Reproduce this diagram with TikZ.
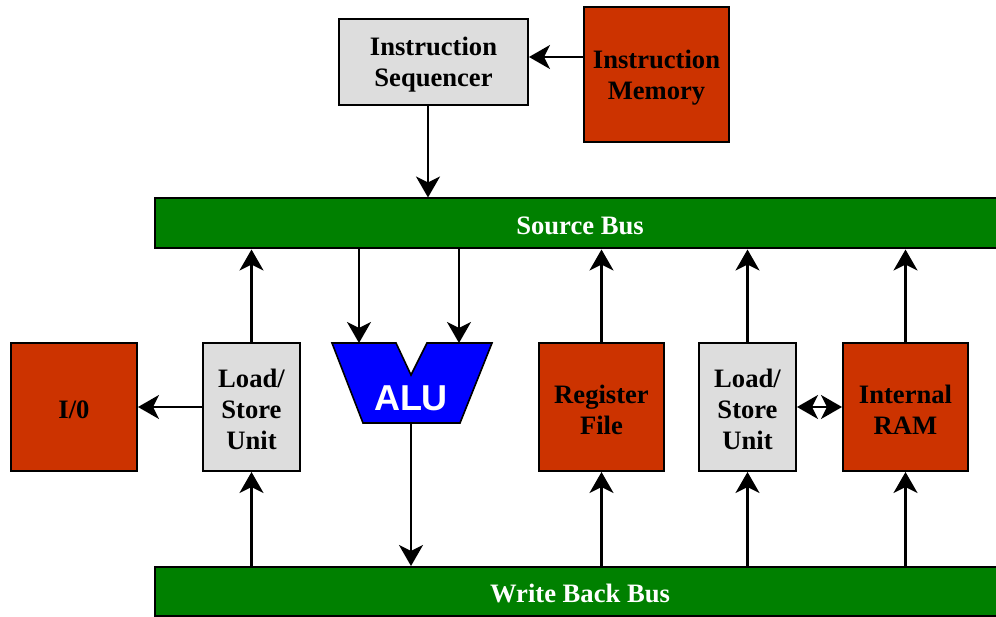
\documentclass[tikz,border=0pt]{standalone}
\usepackage{fontspec}
\setmainfont{Liberation Serif}
\newfontfamily\alufont{Liberation Sans}
\usetikzlibrary{arrows.meta}
\definecolor{unitred}{RGB}{204,51,0}
\definecolor{unitgray}{RGB}{221,221,221}
\definecolor{busgreen}{RGB}{0,128,0}
\definecolor{alublue}{RGB}{0,0,255}
\begin{document}
\begin{tikzpicture}[x=1pt,y=-1pt,
  box/.style={draw=black, line width=2pt, inner sep=0pt},
  graybox/.style={box, fill=unitgray},
  redbox/.style={box, fill=unitred},
  bus/.style={box, fill=busgreen, minimum width=850pt, minimum height=50pt},
  boxtext/.style={inner sep=0pt, align=center, font=\fontsize{26.6}{31}\selectfont\bfseries},
  bustext/.style={boxtext, text=white},
  tip/.tip={Stealth[length=21pt,width=24pt,inset=6pt]},
  arr/.style={line width=2.2pt, -tip},
  darr/.style={line width=2.2pt, tip-tip},
]
\useasboundingbox (0,0) rectangle (996,617);

% control path
\node[graybox, minimum width=189pt, minimum height=86pt] (seq) at (433.5,62) {};
\node[redbox, minimum width=145pt, minimum height=135pt] (imem) at (656.5,74.5) {};

% buses (run off the right edge)
\node[bus] (sbus) at (580,223.5) {};
\node[bus, minimum height=49pt] (wbus) at (580,591.5) {};

% functional units
\node[redbox, minimum width=126pt, minimum height=128pt] (io) at (74,407) {};
\node[graybox, minimum width=97pt, minimum height=128pt] (lsa) at (251.5,407) {};
\node[redbox, minimum width=125pt, minimum height=128pt] (reg) at (601.5,407) {};
\node[graybox, minimum width=97pt, minimum height=128pt] (lsb) at (747.5,407) {};
\node[redbox, minimum width=125pt, minimum height=128pt] (ram) at (905.5,407) {};

% labels, set a little below each box centre
\node[boxtext] (seqt) at ([yshift=-3pt]seq.center) {Instruction\\Sequencer};
\node[boxtext] (imemt) at ([yshift=-3pt]imem.center) {Instruction\\Memory};
\node[bustext] (sbust) at ([yshift=-2pt]sbus.center) {Source Bus};
\node[bustext] (wbust) at ([yshift=-2pt]wbus.center) {Write Back Bus};
\node[boxtext] (iot) at ([yshift=-3pt]io.center) {I/0};
\node[boxtext] (lsat) at ([yshift=-2.5pt]lsa.center) {Load/\\Store\\Unit};
\node[boxtext] (regt) at ([yshift=-3pt]reg.center) {Register\\File};
\node[boxtext] (lsbt) at ([yshift=-2.5pt]lsb.center) {Load/\\Store\\Unit};
\node[boxtext] (ramt) at ([yshift=-3pt]ram.center) {Internal\\RAM};

% ALU
\draw[fill=alublue, line width=1.6pt, line join=miter]
  (332,343) -- (396,343) -- (411,375) -- (427,343) -- (492,343) -- (460,423) -- (363,423) -- cycle;
\node[text=white, font=\alufont\fontsize{36}{40}\selectfont\bfseries] (alu) at (411,398) {ALU};
\coordinate (aluinA) at (359,343);
\coordinate (aluinB) at (459,343);
\coordinate (aluout) at (411,423);

% helper coordinates
\coordinate (yim) at (0,57);
\coordinate (xseq) at (428,0);

% connectors
\draw[arr] (imem.west |- yim) -- (seq.east |- yim);
\draw[arr] (seq.south -| xseq) -- (sbus.north -| xseq);

\draw[arr] (lsa.north) -- (lsa.north |- sbus.south);
\draw[arr] (reg.north) -- (reg.north |- sbus.south);
\draw[arr] (lsb.north) -- (lsb.north |- sbus.south);
\draw[arr] (ram.north) -- (ram.north |- sbus.south);

\draw[arr] (sbus.south -| aluinA) -- (aluinA);
\draw[arr] (sbus.south -| aluinB) -- (aluinB);
\draw[arr] (aluout) -- (wbus.north -| aluout);

\draw[arr] (wbus.north -| lsa) -- (lsa.south);
\draw[arr] (wbus.north -| reg) -- (reg.south);
\draw[arr] (wbus.north -| lsb) -- (lsb.south);
\draw[arr] (wbus.north -| ram) -- (ram.south);

\draw[arr] (lsa.west) -- (io.east);
\draw[darr] (lsb.east) -- (ram.west);
\end{tikzpicture}
\end{document}
